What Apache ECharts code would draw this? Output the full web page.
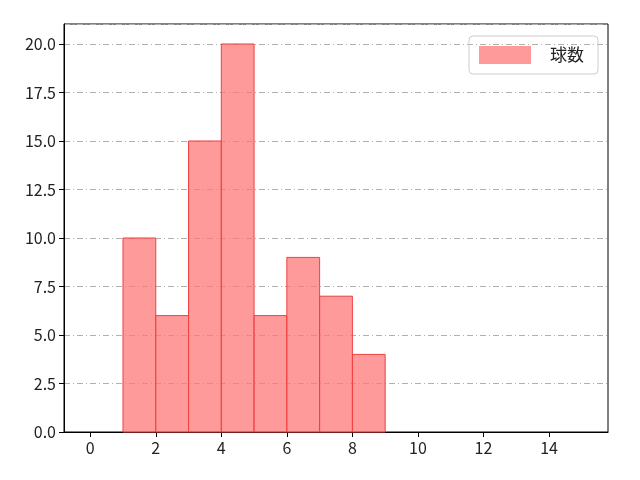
<!DOCTYPE html>
<html><head><meta charset="utf-8">
<script src="https://cdn.jsdelivr.net/npm/echarts@6/dist/echarts.min.js"></script>
<style>body{margin:0}#c{width:640px;height:480px}</style></head>
<body><div id="c"></div>
<script>
const binStarts = [1, 2, 3, 4, 5, 6, 7, 8];
const counts = [10, 6, 15, 20, 6, 9, 7, 4];
const xTicks = [0, 2, 4, 6, 8, 10, 12, 14];
const seriesName = '球数';

const chart = echarts.init(document.getElementById('c'));
const font = 'Noto Sans CJK JP';
chart.setOption({
  animation: false,
  textStyle: {fontFamily: font},
  grid: {left: 64, right: 32, top: 24, bottom: 48, show: true, borderColor: '#000', borderWidth: 1},
  legend: {
    right: 42, top: 36, itemWidth: 52, itemHeight: 18, itemGap: 8,
    borderColor: '#ccc', borderWidth: 1, borderRadius: 4, padding: [10, 14, 10, 10],
    textStyle: {fontSize: 17, color: '#222', fontFamily: font, padding: [0, 0, 0, 14]},
    data: [{name: seriesName, icon: 'rect', itemStyle: {color: 'rgba(255,120,120,0.75)'}}]
  },
  xAxis: {
    type: 'value', min: -0.8, max: 15.8,
    axisLine: {onZero: false, lineStyle: {color: '#000'}},
    axisTick: {show: true, customValues: xTicks, length: 5, lineStyle: {color: '#000'}},
    axisLabel: {customValues: xTicks, fontSize: 16, color: '#222', margin: 8},
    splitLine: {show: false}
  },
  yAxis: {
    type: 'value', min: 0, max: 21.03, interval: 2.5,
    axisLine: {show: true, onZero: false, lineStyle: {color: '#000'}},
    axisTick: {show: true, length: 5, lineStyle: {color: '#000'}},
    axisLabel: {fontSize: 16, color: '#222', formatter: v => v.toFixed(1),
      showMaxLabel: false},
    splitLine: {lineStyle: {color: '#b0b0b0', type: [6, 3, 1, 3]}}
  },
  series: [{
    name: seriesName, type: 'custom',
    data: binStarts.map((b, i) => [b, counts[i]]),
    renderItem: (params, api) => {
      const p0 = api.coord([api.value(0), 0]);
      const p1 = api.coord([api.value(0) + 1, api.value(1)]);
      return {type: 'rect',
        shape: {x: p0[0], y: p1[1], width: p1[0] - p0[0], height: p0[1] - p1[1]},
        style: {fill: 'rgba(255,120,120,0.75)', stroke: '#f04040', lineWidth: 1}};
    },
    itemStyle: {color: 'rgba(255,120,120,0.75)'}
  }]
});
</script></body></html>
